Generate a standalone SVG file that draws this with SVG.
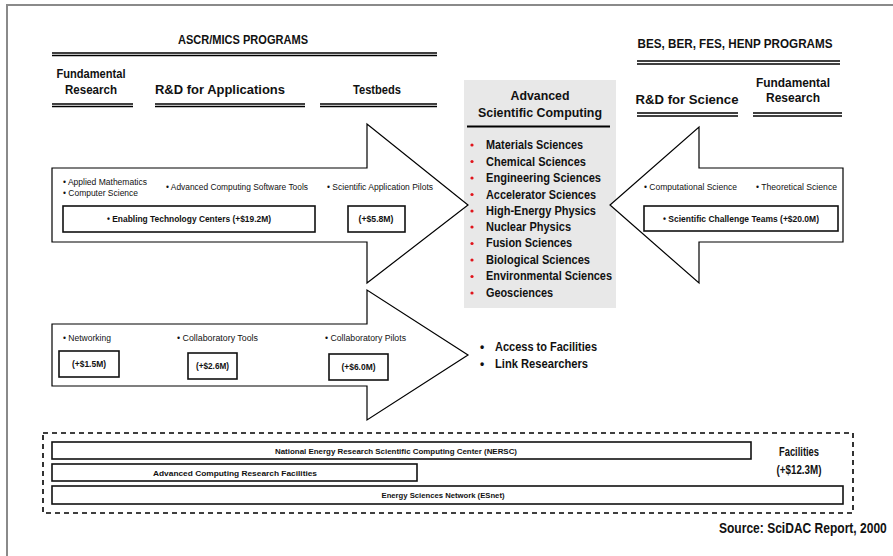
<svg xmlns="http://www.w3.org/2000/svg" width="893" height="556" viewBox="0 0 893 556">
<style>
text{font-family:"Liberation Sans",Arial,sans-serif;fill:#111}
.h{font-size:12px;font-weight:bold}
.s{font-size:8.5px}
.sb{font-size:8.5px;font-weight:bold}
.bar{font-size:8px;font-weight:bold}
.li{font-size:12px;font-weight:bold}
.arrow{fill:#fff;stroke:#000;stroke-width:1.2}
.box{fill:#fff;stroke:#111;stroke-width:1.6}
.ul{stroke:#000;stroke-width:1.6}
.c{text-anchor:middle}
</style>
<rect x="7" y="5" width="900" height="600" fill="#fff" stroke="#8a8a8a" stroke-width="2"/>

<g id="hdr-ascr">
<text class="h c" x="243" y="44" textLength="130" lengthAdjust="spacingAndGlyphs">ASCR/MICS PROGRAMS</text>
<line class="ul" x1="52" y1="53" x2="437" y2="53"/><line class="ul" x1="52" y1="55.5" x2="437" y2="55.5"/>
<text class="h c" x="91" y="78" textLength="69" lengthAdjust="spacingAndGlyphs">Fundamental</text>
<text class="h c" x="91" y="94" textLength="52" lengthAdjust="spacingAndGlyphs">Research</text>
<line class="ul" x1="52" y1="104" x2="133" y2="104"/><line class="ul" x1="52" y1="106.5" x2="133" y2="106.5"/>
<text class="h c" x="220" y="94" textLength="130" lengthAdjust="spacingAndGlyphs">R&amp;D for Applications</text>
<line class="ul" x1="155" y1="104" x2="305" y2="104"/><line class="ul" x1="155" y1="106.5" x2="305" y2="106.5"/>
<text class="h c" x="377" y="94" textLength="48" lengthAdjust="spacingAndGlyphs">Testbeds</text>
<line class="ul" x1="320" y1="104" x2="437" y2="104"/><line class="ul" x1="320" y1="106.5" x2="437" y2="106.5"/>
</g>

<g id="hdr-bes">
<text class="h c" x="735" y="48" textLength="195" lengthAdjust="spacingAndGlyphs">BES, BER, FES, HENP PROGRAMS</text>
<line class="ul" x1="637" y1="61" x2="840" y2="61"/><line class="ul" x1="637" y1="64" x2="840" y2="64"/>
<text class="h c" x="687" y="104" textLength="103" lengthAdjust="spacingAndGlyphs">R&amp;D for Science</text>
<line class="ul" x1="637" y1="113" x2="738" y2="113"/><line class="ul" x1="637" y1="116" x2="738" y2="116"/>
<text class="h c" x="793" y="87" textLength="74" lengthAdjust="spacingAndGlyphs">Fundamental</text>
<text class="h c" x="793" y="102" textLength="54" lengthAdjust="spacingAndGlyphs">Research</text>
<line class="ul" x1="753" y1="113" x2="842" y2="113"/><line class="ul" x1="753" y1="116" x2="842" y2="116"/>
</g>

<g id="asc">
<rect x="464" y="80" width="152" height="228" fill="#e8e8e8"/>
<text class="h c" x="540" y="100" textLength="59" lengthAdjust="spacingAndGlyphs">Advanced</text>
<text class="h c" x="540" y="117" textLength="124" lengthAdjust="spacingAndGlyphs">Scientific Computing</text>
<line x1="467" y1="126.5" x2="610" y2="126.5" stroke="#000" stroke-width="2"/>
<g fill="#e0141b">
<circle cx="472" cy="145" r="1.6"/><circle cx="472" cy="161.5" r="1.6"/><circle cx="472" cy="178" r="1.6"/><circle cx="472" cy="194.5" r="1.6"/><circle cx="472" cy="211" r="1.6"/><circle cx="472" cy="227" r="1.6"/><circle cx="472" cy="243.5" r="1.6"/><circle cx="472" cy="260" r="1.6"/><circle cx="472" cy="276.5" r="1.6"/><circle cx="472" cy="293" r="1.6"/>
</g>
<text class="li" x="486" y="149" textLength="97" lengthAdjust="spacingAndGlyphs">Materials Sciences</text>
<text class="li" x="486" y="166" textLength="100" lengthAdjust="spacingAndGlyphs">Chemical Sciences</text>
<text class="li" x="486" y="182" textLength="115" lengthAdjust="spacingAndGlyphs">Engineering Sciences</text>
<text class="li" x="486" y="199" textLength="110" lengthAdjust="spacingAndGlyphs">Accelerator Sciences</text>
<text class="li" x="486" y="215" textLength="110" lengthAdjust="spacingAndGlyphs">High-Energy Physics</text>
<text class="li" x="486" y="231" textLength="85" lengthAdjust="spacingAndGlyphs">Nuclear Physics</text>
<text class="li" x="486" y="247" textLength="86" lengthAdjust="spacingAndGlyphs">Fusion Sciences</text>
<text class="li" x="486" y="264" textLength="104" lengthAdjust="spacingAndGlyphs">Biological Sciences</text>
<text class="li" x="486" y="280" textLength="126" lengthAdjust="spacingAndGlyphs">Environmental Sciences</text>
<text class="li" x="486" y="297" textLength="67" lengthAdjust="spacingAndGlyphs">Geosciences</text>
</g>

<g id="arrow-ascr">
<polygon class="arrow" points="52,168 367,168 367,124 468,205 367,283 367,242 52,242"/>
<text class="s" x="63" y="185" textLength="84" lengthAdjust="spacingAndGlyphs">• Applied Mathematics</text>
<text class="s" x="63" y="196" textLength="75" lengthAdjust="spacingAndGlyphs">• Computer Science</text>
<text class="s" x="166" y="190" textLength="142" lengthAdjust="spacingAndGlyphs">• Advanced Computing Software Tools</text>
<text class="s" x="327" y="190" textLength="106" lengthAdjust="spacingAndGlyphs">• Scientific Application Pilots</text>
<rect class="box" x="63" y="206" width="252" height="26"/>
<text class="sb c" x="189" y="222" textLength="164" lengthAdjust="spacingAndGlyphs">• Enabling Technology Centers (+$19.2M)</text>
<rect class="box" x="348" y="206" width="57" height="26"/>
<text class="sb c" x="376" y="222" textLength="35" lengthAdjust="spacingAndGlyphs">(+$5.8M)</text>
</g>

<g id="arrow-bes">
<polygon class="arrow" points="843,168 699,168 699,127 610,205 699,283 699,242 843,242"/>
<text class="s" x="644" y="190" textLength="93" lengthAdjust="spacingAndGlyphs">• Computational Science</text>
<text class="s" x="756" y="190" textLength="81" lengthAdjust="spacingAndGlyphs">• Theoretical Science</text>
<rect class="box" x="644" y="206" width="194" height="25"/>
<text class="sb c" x="741" y="222" textLength="156" lengthAdjust="spacingAndGlyphs">• Scientific Challenge Teams (+$20.0M)</text>
</g>

<g id="arrow-testbeds">
<polygon class="arrow" points="52,324 367,324 367,290 468,355 367,420 367,386 52,386"/>
<text class="s" x="63" y="341" textLength="48" lengthAdjust="spacingAndGlyphs">• Networking</text>
<text class="s" x="177" y="341" textLength="81" lengthAdjust="spacingAndGlyphs">• Collaboratory Tools</text>
<text class="s" x="325" y="341" textLength="81" lengthAdjust="spacingAndGlyphs">• Collaboratory Pilots</text>
<rect class="box" x="59" y="351" width="60" height="26"/>
<text class="sb c" x="89" y="367" textLength="34" lengthAdjust="spacingAndGlyphs">(+$1.5M)</text>
<rect class="box" x="188" y="353" width="49" height="26"/>
<text class="sb c" x="212.5" y="369" textLength="33" lengthAdjust="spacingAndGlyphs">(+$2.6M)</text>
<rect class="box" x="329" y="354" width="59" height="26"/>
<text class="sb c" x="358.5" y="370" textLength="34" lengthAdjust="spacingAndGlyphs">(+$6.0M)</text>
</g>

<g id="outcomes">
<text class="li" x="480" y="351">•</text>
<text class="li" x="495" y="351" textLength="102" lengthAdjust="spacingAndGlyphs">Access to Facilities</text>
<text class="li" x="480" y="368">•</text>
<text class="li" x="495" y="368" textLength="93" lengthAdjust="spacingAndGlyphs">Link Researchers</text>
</g>

<g id="facilities">
<rect x="43" y="433" width="810" height="80" fill="none" stroke="#000" stroke-width="1.6" stroke-dasharray="5,4"/>
<rect class="box" x="52" y="442" width="699" height="17"/>
<text class="bar c" x="396" y="454" textLength="242" lengthAdjust="spacingAndGlyphs">National Energy Research Scientific Computing Center (NERSC)</text>
<rect class="box" x="52" y="464" width="365" height="17"/>
<text class="bar c" x="235" y="476" textLength="164" lengthAdjust="spacingAndGlyphs">Advanced Computing Research Facilities</text>
<rect class="box" x="52" y="486" width="791" height="18"/>
<text class="bar c" x="443" y="498" textLength="123" lengthAdjust="spacingAndGlyphs">Energy Sciences Network (ESnet)</text>
<text class="h c" x="799" y="456" textLength="40" lengthAdjust="spacingAndGlyphs">Facilities</text>
<text class="h c" x="799" y="474" textLength="45" lengthAdjust="spacingAndGlyphs">(+$12.3M)</text>
</g>

<text transform="translate(719,533) scale(0.86,1)" style="font-size:14px;font-weight:bold">Source: SciDAC Report, 2000</text>
</svg>
